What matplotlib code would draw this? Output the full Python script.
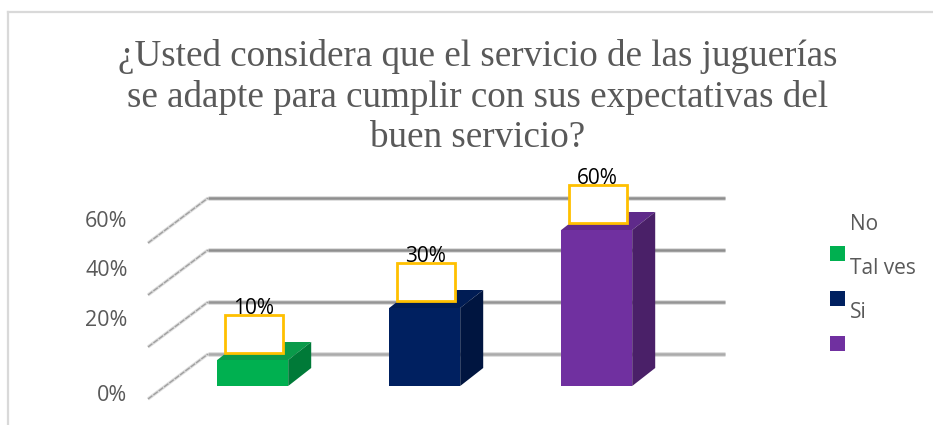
import matplotlib
matplotlib.use('Agg')
import matplotlib.pyplot as plt
from matplotlib.lines import Line2D
from matplotlib.patches import Polygon, Rectangle

# Data
categories = ['No', 'Tal ves', 'Si']
values = [10, 30, 60]
value_labels = ['10%', '30%', '60%']
grid_levels = [0, 20, 40, 60]
tick_labels = ['0%', '20%', '40%', '60%']
title = '¿Usted considera que el servicio de las juguerías\nse adapte para cumplir con sus expectativas del\nbuen servicio?'

# Colors
colors = ['#00B050', '#002060', '#7030A0']
top_colors = ['#0A9A4A', '#001C54', '#5F2A8A']
side_colors = ['#007A38', '#001540', '#4A2068']
grid_colors = ['#ABABAB', '#959595', '#8E8E8E', '#8E8E8E']

W, H = 933, 425
fig = plt.figure(figsize=(W / 100, H / 100), dpi=100)


# figure fractions from picture pixels
def fx(x):
    return x / W


def fy(y):
    return 1 - y / H


# Axes covers the front plane of the bars: 0% at y=386, 60% at y=230
ax = fig.add_axes([fx(148), fy(386), (725 - 148) / W, (386 - 230) / H])
ax.set_xlim((148 - 252.7) / 172, (725 - 252.7) / 172)
ax.set_ylim(0, 60)
ax.axis('off')

px_x = 1 / 172  # category units per pixel
px_y = 60 / 156  # percent per pixel
wall_dx, wall_dy = 60 * px_x, 45 * px_y
x_left = ax.get_xlim()[0]
x_right = ax.get_xlim()[1]
floor_off = -13 * px_y  # front edge of the floor sits below the bars' base

# Gridlines: diagonal on the side wall, straight on the back wall
for level, c in zip(grid_levels, grid_colors):
    x0, y0 = x_left, level + floor_off
    x1, y1 = x_left + wall_dx, level + floor_off + wall_dy
    ax.plot([x0, x1], [y0, y1], color='#DEDEDE', lw=2.4, clip_on=False, zorder=1,
            solid_capstyle='butt')
    ax.plot([x0, x1], [y0, y1], color='#A0A0A0', lw=1.0, ls=(0, (4, 0.8)), clip_on=False, zorder=1)
    ax.plot([x1, x_right], [y1, y1], color='#DADADA', lw=3.4, clip_on=False, zorder=1,
            solid_capstyle='butt')
    ax.plot([x1, x_right], [y1, y1], color=c, lw=1.8, clip_on=False, zorder=1,
            solid_capstyle='butt')

# Bars with fake 3D top and side
bar_w = 71 * px_x
dx, dy = 23 * px_x, 18 * px_y
for i, v in enumerate(values):
    l, r = i - bar_w / 2, i + bar_w / 2
    ax.bar(i, v, width=bar_w, color=colors[i], zorder=3, clip_on=False)
    ax.add_patch(Polygon([(l, v), (r, v), (r + dx, v + dy), (l + dx, v + dy)],
                         closed=True, color=top_colors[i], lw=0, zorder=3, clip_on=False))
    ax.add_patch(Polygon([(r, 0), (r + dx, dy), (r + dx, v + dy), (r, v)],
                         closed=True, color=side_colors[i], lw=0, zorder=3, clip_on=False))

    # empty label box with the value sitting on its top edge
    box_w = 58 * px_x
    box_h = 37.5 * px_y
    box_y = v + 7.5 * px_y
    ax.add_patch(Rectangle((i + 1 * px_x - box_w / 2, box_y), box_w, box_h, facecolor='white',
                           edgecolor='#FFC000', lw=2, zorder=4, clip_on=False))
    ax.text(i + 1 * px_x, box_y + box_h + 6 * px_y, value_labels[i], ha='center', va='center',
            fontsize=15, color='black', family='Open Sans', zorder=5, clip_on=False)

# Title
fig.text(fx(478), fy(97), title, ha='center', va='center', fontsize=26.7,
         family='Liberation Serif', color='#595959', linespacing=1.22)

# Axis labels are offset from their gridlines in the original
tick_y = [395.5, 320.5, 270.5, 221.5]
for lab, y in zip(tick_labels, tick_y):
    fig.text(fx(127.5), fy(y), lab, ha='right', va='center', fontsize=15.5,
             family='Open Sans', color='#595959')

# Legend, markers and labels do not line up in the original
text_y = [224, 269, 312]
marker_y = [253.5, 298.5, 343.5]
for name, c, ty, my in zip(categories, colors, text_y, marker_y):
    fig.text(fx(850), fy(ty), name, ha='left', va='center', fontsize=15,
             family='Open Sans', color='#595959')
    fig.add_artist(Rectangle((fx(829.5), fy(my + 7.5)), 15 / W, 15 / H, color=c, lw=0,
                             transform=fig.transFigure))

# Chart frame, only the top and left edges are visible
fig.add_artist(Line2D([fx(8), fx(8)], [fy(12), 0], color='#D9D9D9', lw=1.6))
fig.add_artist(Line2D([fx(8), 1], [fy(12), fy(12)], color='#D9D9D9', lw=1.6))

fig.savefig('out.png', dpi=100)
